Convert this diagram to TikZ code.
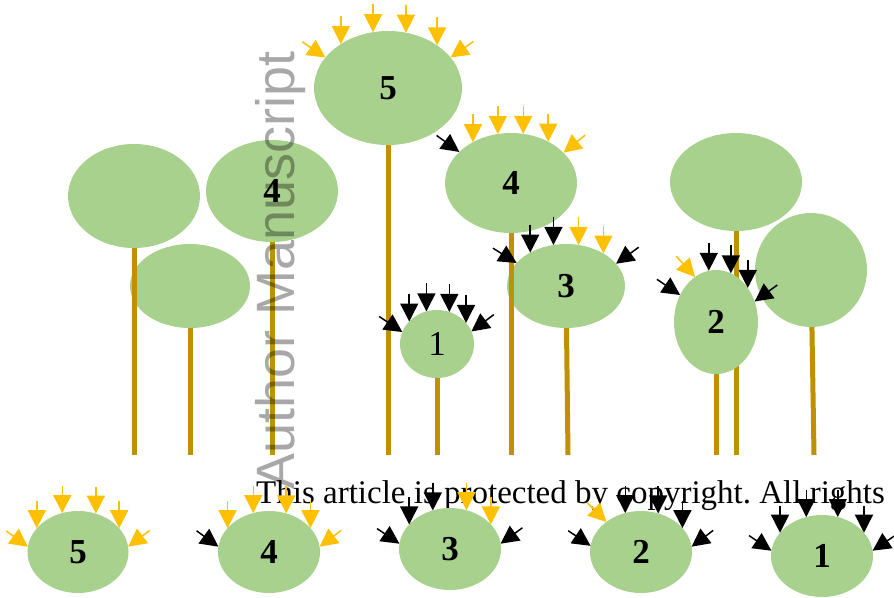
\documentclass[tikz,border=0pt]{standalone}
\usepackage{fontspec}
\setmainfont{Liberation Serif}
\newfontfamily\marksans{Liberation Sans}
\usetikzlibrary{shapes.geometric,arrows.meta}
\definecolor{leaf}{HTML}{A9D18E}
\definecolor{bark}{HTML}{BF9000}
\definecolor{sunny}{HTML}{FFC000}
\frenchspacing

\begin{document}
\begin{tikzpicture}[x=1pt,y=-1pt,
  crown/.style={ellipse, fill=leaf, inner sep=0pt, outer sep=0pt,
    font=\bfseries\fontsize{35}{35}\selectfont},
  trunk/.style={draw=bark, line width=5pt},
  ray/.style={-{Triangle[length=18pt,width=18pt]}, line width=1.5pt},
  lit/.style={ray, draw=sunny, fill=sunny},
  dim/.style={ray, draw=black, fill=black}]
\useasboundingbox (0,0) rectangle (894,597);
\coordinate (ground) at (0,455);

% left stand
\coordinate (b) at (190,286);
\draw[trunk] (b) -- (b |- ground);
\node[crown, minimum width=120pt, minimum height=84pt] (cb) at (b) {};
\coordinate (a) at (134,196);
\draw[trunk] (a) -- (a |- ground);
\node[crown, minimum width=132pt, minimum height=104pt] (ca) at (a) {};
\coordinate (c) at (272,191);
\draw[trunk] (c) -- (c |- ground);
\node[crown, minimum width=132pt, minimum height=102pt] (cc) at (c) {4};

% middle stand
\coordinate (t5) at (388,88);
\draw[trunk] (t5) -- (t5 |- ground);
\node[crown, minimum width=148pt, minimum height=114pt] (c5) at (t5) {5};
\coordinate (t3) at (566,286);
\draw[trunk] (t3) -- ([xshift=2pt]t3 |- ground);
\node[crown, minimum width=118pt, minimum height=84pt] (c3) at (t3) {3};
\coordinate (t4) at (511,183);
\draw[trunk] (t4) -- (t4 |- ground);
\node[crown, minimum width=132pt, minimum height=100pt] (c4) at (t4) {4};
\coordinate (t1) at (437,344);
\draw[trunk] (t1) -- (t1 |- ground);
\node[crown, minimum width=74pt, minimum height=68pt, font=\fontsize{35}{35}\selectfont] (c1) at (t1) {1};

% right stand
\coordinate (d) at (736,182);
\draw[trunk] (d) -- (d |- ground);
\node[crown, minimum width=132pt, minimum height=98pt] (cd) at (d) {};
\coordinate (t2) at (716,322);
\draw[trunk] (t2) -- (t2 |- ground);
\node[crown, minimum width=84pt, minimum height=104pt] (c2) at (t2) {2};
\coordinate (e) at (811,270);
\draw[trunk] (e) -- ([xshift=3pt]e |- ground);
\node[crown, minimum width=112pt, minimum height=114pt] (ce) at (e) {};

\foreach \a/\t/\s in {154/146/lit, 137/90/lit, 105/90/lit, 72/90/lit, 41/90/lit, 26/35/lit}
  \draw[\s] (c5.\a) ++(\t:28pt) -- (c5.\a);
\foreach \a/\t/\s in {149/144/dim, 133/90/lit, 105/90/lit, 76/90/lit, 48/90/lit, 30/39/lit}
  \draw[\s] (c4.\a) ++(\t:28pt) -- (c4.\a);
\foreach \a/\t/\s in {155/148/dim, 137/90/dim, 107/90/dim, 73/90/lit, 41/90/lit, 24/36/dim}
  \draw[\s] (c3.\a) ++(\t:28pt) -- (c3.\a);
\foreach \a/\t/\s in {161/146/dim, 141/90/dim, 108/90/dim, 69/90/dim, 36/90/dim, 20/37/dim}
  \draw[\s] (c1.\a) ++(\t:28pt) -- (c1.\a);
\foreach \a/\t/\s in {143/146/dim, 115/132/lit, 98/90/dim, 73/90/dim, 47/90/dim, 28/36/dim}
  \draw[\s] (c2.\a) ++(\t:28pt) -- (c2.\a);

\node[anchor=base west, inner sep=0pt, font=\fontsize{33}{33}\selectfont] (notice) at (256,503)
  {This article is protected by copyright. All rights};

% bottom row
\node[crown, minimum width=101pt, minimum height=82pt] (r5) at (78,552) {5};
\node[crown, minimum width=102pt, minimum height=82pt] (r4) at (269,552) {4};
\node[crown, minimum width=102pt, minimum height=82pt] (r3) at (450,549) {3};
\node[crown, minimum width=102pt, minimum height=82pt] (r2) at (641,552) {2};
\node[crown, minimum width=102pt, minimum height=82pt] (r1) at (822,556) {1};
\foreach \a/\t/\s in {174/144/lit, 150/90/lit, 112/90/lit, 65/90/lit, 30/90/lit, 6/37/lit}
  \draw[\s] (r5.\a) ++(\t:27pt) -- (r5.\a);
\foreach \a/\t/\s in {174/144/dim, 150/90/lit, 112/90/lit, 66/90/lit, 30/90/lit, 6/37/lit}
  \draw[\s] (r4.\a) ++(\t:27pt) -- (r4.\a);
\foreach \a/\t/\s in {174/146/dim, 149/90/dim, 114/90/dim, 67/90/lit, 31/90/lit, 6/36/dim}
  \draw[\s] (r3.\a) ++(\t:27pt) -- (r3.\a);
\foreach \a/\t/\s in {173/146/dim, 139/135/lit, 112/90/dim, 66/90/dim, 30/90/dim, 6/37/dim}
  \draw[\s] (r2.\a) ++(\t:27pt) -- (r2.\a);
\foreach \a/\t/\s in {174/146/dim, 151/90/dim, 112/90/dim, 68/90/dim, 29/90/dim, 6/34/dim}
  \draw[\s] (r1.\a) ++(\t:27pt) -- (r1.\a);

\node[rotate=90, anchor=base, inner sep=0pt, text=black, text opacity=0.34,
  font=\marksans\fontsize{54}{54}\selectfont] (mark) at (294,270) {Author Manuscript};
\end{tikzpicture}
\end{document}
